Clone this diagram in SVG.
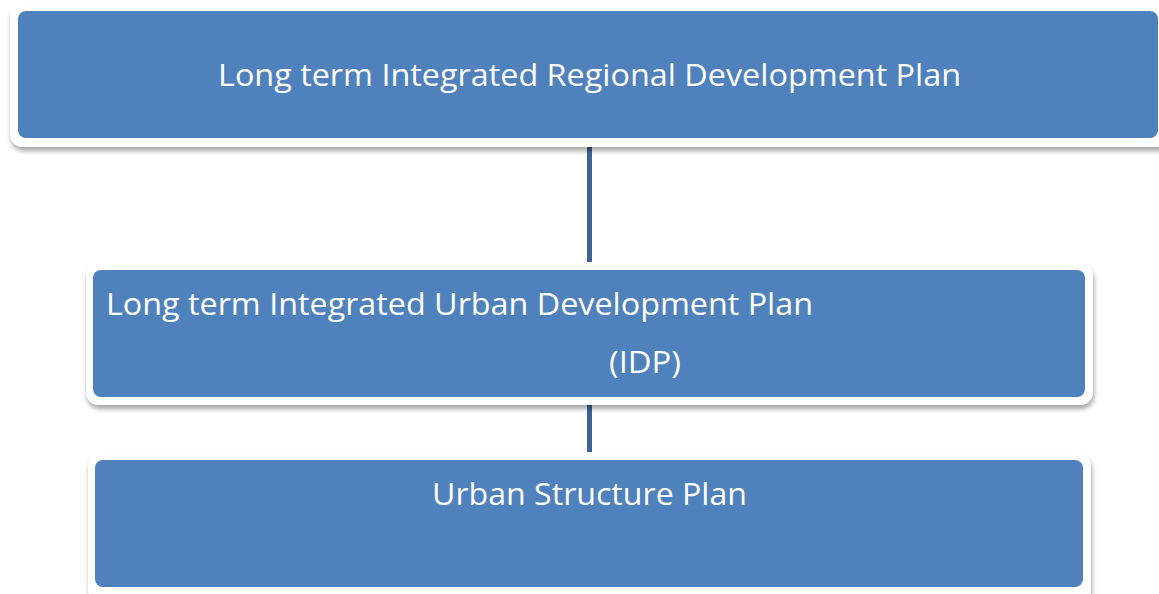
<svg xmlns="http://www.w3.org/2000/svg" width="1159" height="594" viewBox="0 0 1159 594">
  <defs>
    <filter id="shadow" x="-5%" y="-10%" width="110%" height="130%">
      <feDropShadow dx="1" dy="4" stdDeviation="2.5" flood-color="#000" flood-opacity="0.35"/>
    </filter>
  </defs>
  <style>
    .frame { fill: #ffffff; filter: url(#shadow); }
    .body { fill: #4F81BD; }
    .label { fill: #ffffff; font-family: "Open Sans", "Liberation Sans", sans-serif; font-size: 31px; }
    .link { stroke: #3C6496; stroke-width: 5; fill: none; }
  </style>

  <g id="connectors">
    <line class="link" x1="589.5" y1="142" x2="589.5" y2="262"/>
    <line class="link" x1="589.5" y1="402" x2="589.5" y2="452"/>
  </g>

  <g id="node-regional">
    <rect class="frame" x="10" y="3" width="1160" height="144" rx="13"/>
    <rect class="body" x="18" y="11" width="1140" height="127" rx="8"/>
    <text class="label" x="218" y="86" textLength="743" lengthAdjust="spacingAndGlyphs">Long term Integrated Regional Development Plan</text>
  </g>

  <g id="node-urban">
    <rect class="frame" x="86" y="263" width="1007" height="142" rx="13"/>
    <rect class="body" x="93" y="270" width="992" height="127" rx="8"/>
    <text class="label" x="106" y="315" textLength="707" lengthAdjust="spacingAndGlyphs">Long term Integrated Urban Development Plan</text>
    <text class="label" x="609" y="373" textLength="72" lengthAdjust="spacingAndGlyphs">(IDP)</text>
  </g>

  <g id="node-structure">
    <rect class="frame" x="88" y="453" width="1003" height="150" rx="13"/>
    <rect class="body" x="95" y="460" width="988" height="127" rx="8"/>
    <text class="label" x="432" y="505" textLength="315" lengthAdjust="spacingAndGlyphs">Urban Structure Plan</text>
  </g>
</svg>
